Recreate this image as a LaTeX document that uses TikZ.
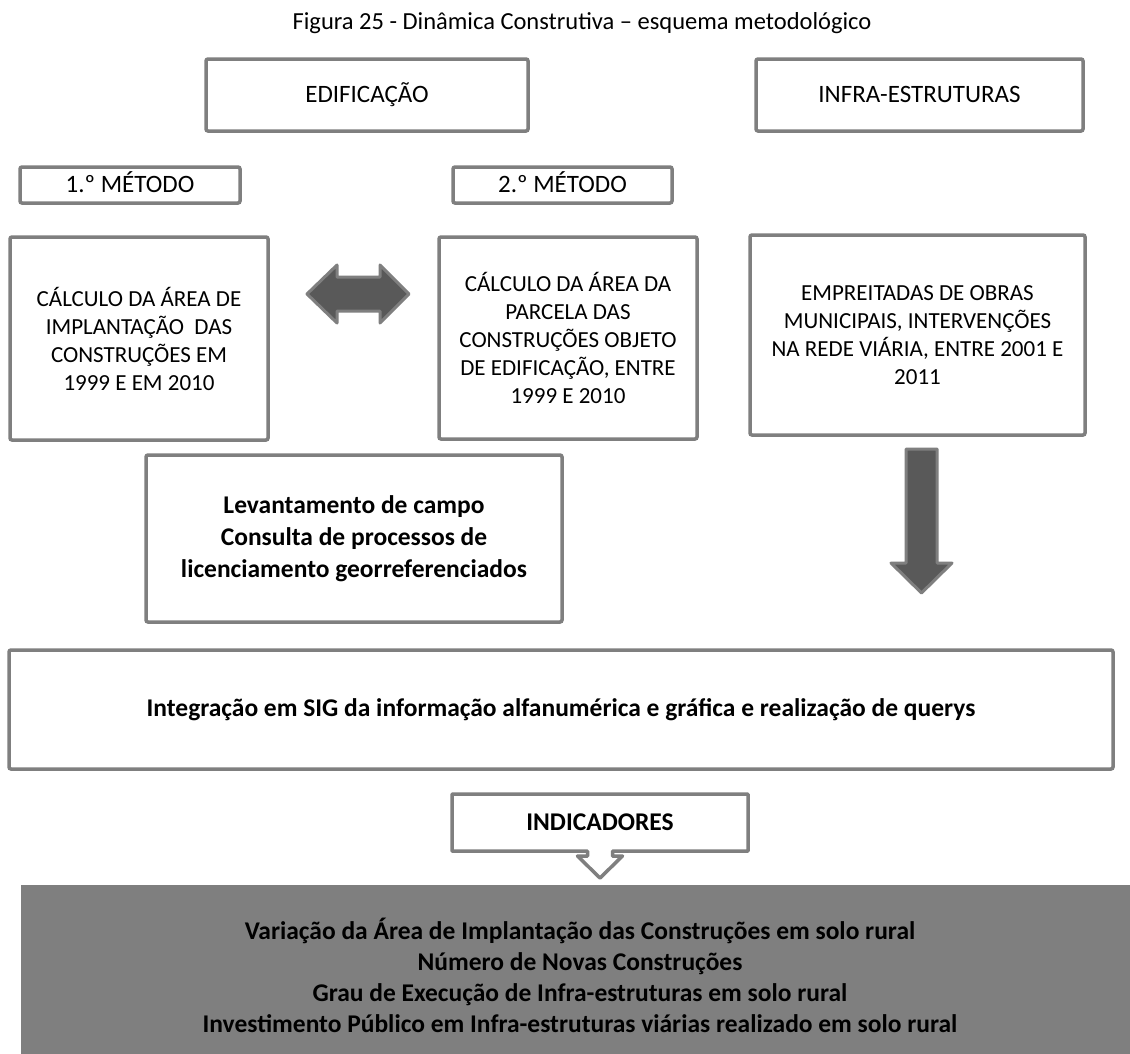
\documentclass[tikz,border=0pt]{standalone}
\usepackage{fontspec}
\setmainfont{Carlito}
\usetikzlibrary{calc}
\definecolor{bordergray}{HTML}{7F7F7F}
\definecolor{arrowfill}{HTML}{595959}
\definecolor{bottomfill}{HTML}{7F7F7F}
\tikzset{
  box/.style={draw=bordergray, line width=3.5pt, rounded corners=2pt, fill=white,
    align=center, inner sep=0pt, font=\fontsize{23}{28}\selectfont},
  headbox/.style={box, font=\fontsize{25}{30}\selectfont, text height=20pt, text depth=5pt},
  boldbox/.style={box, font=\bfseries\fontsize{25.5}{32}\selectfont},
  blockarrow/.style={draw=bordergray, fill=arrowfill, line width=3pt, line join=round},
}
\begin{document}
\begin{tikzpicture}[x=1pt, y=-1pt]
\useasboundingbox (0,0) rectangle (1130,1053);
\fill[white] (0,0) rectangle (1130,1053);

% title
\node[font=\fontsize{24.5}{30}\selectfont, inner sep=0pt] (title) at (582,23)
  {Figura 25 - Dinâmica Construtiva – esquema metodológico};

% top row
\node[headbox, minimum width=322pt, minimum height=72pt] (edif) at (367,95) {EDIFICAÇÃO};
\node[headbox, minimum width=327pt, minimum height=72pt] (infra) at (919.5,95) {INFRA-ESTRUTURAS};

% methods
\node[headbox, minimum width=220pt, minimum height=36pt] (m1) at (130,185) {1.º MÉTODO};
\node[headbox, minimum width=219pt, minimum height=36pt] (m2) at (562.5,185) {2.º MÉTODO};

% main boxes
\node[box, minimum width=258pt, minimum height=203pt] (b1) at (139,338.5)
  {CÁLCULO DA ÁREA DE\\IMPLANTAÇÃO~~DAS\\CONSTRUÇÕES EM\\1999 E EM 2010};
\node[box, minimum width=258pt, minimum height=202pt] (b2) at (568,338)
  {CÁLCULO DA ÁREA DA\\PARCELA DAS\\CONSTRUÇÕES OBJETO\\DE EDIFICAÇÃO, ENTRE\\1999 E 2010};
\node[box, minimum width=335pt, minimum height=200pt] (b3) at (917.5,335)
  {EMPREITADAS DE OBRAS\\MUNICIPAIS, INTERVENÇÕES\\NA REDE VIÁRIA, ENTRE 2001 E\\2011};

% double arrow between b1 and b2
\coordinate (da) at (358,294);
\draw[blockarrow] ($(da)+(-51,0)$) -- ($(da)+(-21,-29)$) -- ($(da)+(-21,-17)$)
  -- ($(da)+(22,-17)$) -- ($(da)+(22,-29)$) -- ($(da)+(51,0)$)
  -- ($(da)+(22,29)$) -- ($(da)+(22,17)$) -- ($(da)+(-21,17)$)
  -- ($(da)+(-21,29)$) -- cycle;

% levantamento
\node[boldbox, minimum width=416pt, minimum height=167pt] (lev) at (354,538.5)
  {Levantamento de campo\\Consulta de processos de\\licenciamento georreferenciados};

% down arrow under b3
\coordinate (dn) at (921.5,449);
\draw[blockarrow] ($(dn)+(-15.5,0)$) -- ($(dn)+(15.5,0)$) -- ($(dn)+(15.5,114)$)
  -- ($(dn)+(30.5,114)$) -- ($(dn)+(0,144)$) -- ($(dn)+(-30.5,114)$)
  -- ($(dn)+(-15.5,114)$) -- cycle;

% integration
\node[boldbox, minimum width=1104pt, minimum height=119pt] (integ) at (561,709.5)
  {Integração em SIG da informação alfanumérica e gráfica e realização de querys};

% indicadores callout
\draw[draw=bordergray, line width=3.5pt, fill=white, line join=round]
  (452,794) -- (748,794) -- (748,851) -- (612.5,851) -- (612.5,856) -- (622.5,856)
  -- (600,878) -- (577.5,856) -- (587.5,856) -- (587.5,851) -- (452,851) -- cycle;
\node[font=\bfseries\fontsize{25.5}{32}\selectfont, inner sep=0pt] (indic) at (600,822) {INDICADORES};

% bottom box
\node[draw=bottomfill, fill=bottomfill, line width=2pt, minimum width=1115pt, minimum height=175pt,
  inner sep=0pt, anchor=north west] (bot) at (21,885) {};
\node[font=\bfseries\fontsize{25.5}{31}\selectfont, align=center, inner sep=0pt] (bottxt) at (580,975)
  {Variação da Área de Implantação das Construções em solo rural\\
   Número de Novas Construções\\
   Grau de Execução de Infra-estruturas em solo rural\\
   Investimento Público em Infra-estruturas viárias realizado em solo rural};
\end{tikzpicture}
\end{document}
